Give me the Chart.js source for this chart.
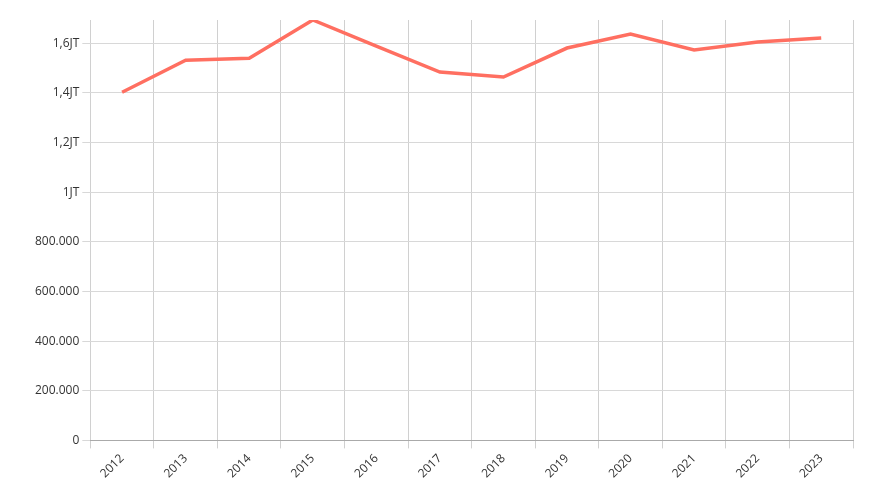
<!DOCTYPE html>
<html>
<head>
<meta charset="utf-8">
<script src="https://cdn.jsdelivr.net/npm/chart.js@4/dist/chart.umd.min.js"></script>
<style>
  html, body { margin: 0; padding: 0; background: #fff; }
  #wrap { width: 873px; height: 500px; }
</style>
</head>
<body>
<div id="wrap"><canvas id="chart"></canvas></div>
<script>
// ── Data ──────────────────────────────────────
const years  = ['2012','2013','2014','2015','2016','2017','2018','2019','2020','2021','2022','2023'];
const values = [1403000, 1532000, 1540000, 1694000, 1589000, 1484000, 1464000, 1581000, 1637000, 1573000, 1605000, 1621000];
const yTicks = [0, 200000, 400000, 600000, 800000, 1000000, 1200000, 1400000, 1600000];

// 1,6JT / 800.000
function fmtTick(v) {
    if (v >= 1000000) {
        return (v / 1000000).toLocaleString('id-ID', { maximumFractionDigits: 1 }) + 'JT';
    }
    return v.toLocaleString('id-ID');
}

new Chart(document.getElementById('chart'), {
    type: 'line',
    data: {
        labels: years,
        datasets: [{
            data: values,
            borderColor: '#ff6f61',
            borderWidth: 3.5,
            pointRadius: 0,
            tension: 0,
            fill: false
        }]
    },
    options: {
        responsive: true, maintainAspectRatio: false, animation: false,
        layout: { padding: { top: 20, right: 20, left: 32, bottom: 16 } },
        plugins: { legend: { display: false }, tooltip: { enabled: false } },
        scales: {
            x: {
                offset: true,
                grid: { color: '#d0d0d0', offset: true },
                border: { color: '#aaa' },
                ticks: { color: '#333', font: { family: 'Open Sans', size: 12 }, maxRotation: 45, minRotation: 45 }
            },
            y: {
                min: 0, max: 1694000,
                grid: { color: '#d8d8d8' },
                border: { display: false },
                afterBuildTicks: axis => { axis.ticks = yTicks.map(v => ({ value: v })); },
                ticks: { color: '#333', font: { family: 'Open Sans', size: 12 }, callback: fmtTick }
            }
        }
    }
});
</script>
</body>
</html>
